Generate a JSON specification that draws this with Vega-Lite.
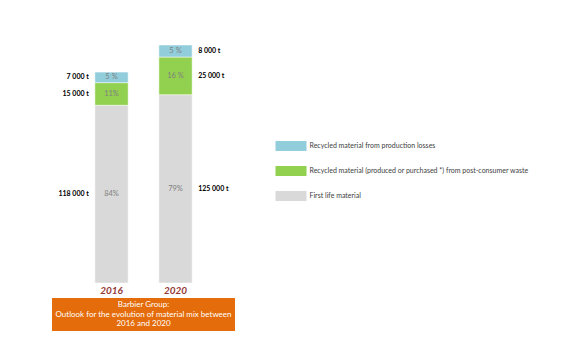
{
  "$schema": "https://vega.github.io/schema/vega-lite/v6.json",
  "padding": {"left": 50, "top": 44, "right": 0, "bottom": 0},
  "background": "white",
  "center": true,
  "bounds": "flush",
  "spacing": 15,
  "config": {
    "view": {"stroke": null},
    "font": "Lato"
  },
  "datasets": {
    "mix": [
      {"year": "2016", "type": "First life material", "tonnes": 118000, "pct": "84%", "label": "118 000 t"},
      {"year": "2016", "type": "Recycled material (produced or purchased *) from post-consumer waste", "tonnes": 15000, "pct": "11%", "label": "15 000 t"},
      {"year": "2016", "type": "Recycled material from production losses", "tonnes": 7000, "pct": "5 %", "label": "7 000 t"},
      {"year": "2020", "type": "First life material", "tonnes": 125000, "pct": "79%", "label": "125 000 t"},
      {"year": "2020", "type": "Recycled material (produced or purchased *) from post-consumer waste", "tonnes": 25000, "pct": "16 %", "label": "25 000 t"},
      {"year": "2020", "type": "Recycled material from production losses", "tonnes": 8000, "pct": "5 %", "label": "8 000 t"}
    ]
  },
  "vconcat": [
    {
      "width": 128,
      "height": 238,
      "layer": [
        {
          "data": {"name": "mix"},
          "transform": [
            {"stack": "tonnes", "groupby": ["year"], "sort": [{"field": "type", "order": "ascending"}], "as": ["y0", "y1"]}
          ],
          "mark": {"type": "bar", "stroke": "white", "strokeWidth": 0.5},
          "encoding": {
            "x": {
              "field": "year", "type": "nominal",
              "scale": {"paddingInner": 0.48, "paddingOuter": 0.24},
              "axis": {"title": null, "domain": false, "ticks": false, "labelAngle": 0, "labelPadding": 2, "labelFontSize": 10, "labelFontWeight": "bold", "labelFontStyle": "italic", "labelColor": "#953735", "labelFont": "Lato"}
            },
            "y": {"field": "y0", "type": "quantitative", "scale": {"domain": [0, 158000], "nice": false, "zero": true}, "axis": null},
            "y2": {"field": "y1"},
            "color": {
              "field": "type", "type": "nominal",
              "scale": {
                "domain": ["Recycled material from production losses", "Recycled material (produced or purchased *) from post-consumer waste", "First life material"],
                "range": ["#92CDDC", "#92D050", "#D9D9D9"]
              },
              "legend": {
                "orient": "none", "legendX": 234, "legendY": 96, "title": null, "padding": 0,
                "symbolType": "M-3.1,-1H3.1V1H-3.1Z", "symbolSize": 100, "symbolStrokeWidth": 0, "symbolOpacity": 1,
                "labelOffset": 13.5, "rowPadding": 15, "labelFontSize": 7, "labelColor": "#404040", "labelFont": "Lato", "labelLimit": 400
              }
            }
          }
        },
        {
          "data": {"name": "mix"},
          "transform": [
            {"stack": "tonnes", "groupby": ["year"], "sort": [{"field": "type", "order": "ascending"}], "as": ["y0", "y1"]},
            {"calculate": "(datum.y0 + datum.y1) / 2", "as": "ymid"}
          ],
          "mark": {"type": "text", "fontSize": 7.5, "color": "#7F7F7F", "baseline": "middle"},
          "encoding": {
            "x": {"field": "year", "type": "nominal"},
            "y": {"field": "ymid", "type": "quantitative"},
            "text": {"field": "pct"}
          }
        },
        {
          "data": {"name": "mix"},
          "transform": [
            {"stack": "tonnes", "groupby": ["year"], "sort": [{"field": "type", "order": "ascending"}], "as": ["y0", "y1"]},
            {"calculate": "(datum.y0 + datum.y1) / 2", "as": "ymid"},
            {"filter": "datum.year == '2016'"}
          ],
          "mark": {"type": "text", "fontSize": 7, "fontWeight": "bold", "color": "#000000", "align": "right", "baseline": "middle", "dx": -6},
          "encoding": {
            "x": {"field": "year", "type": "nominal", "bandPosition": 0},
            "y": {"field": "ymid", "type": "quantitative"},
            "text": {"field": "label"}
          }
        },
        {
          "data": {"name": "mix"},
          "transform": [
            {"stack": "tonnes", "groupby": ["year"], "sort": [{"field": "type", "order": "ascending"}], "as": ["y0", "y1"]},
            {"calculate": "(datum.y0 + datum.y1) / 2", "as": "ymid"},
            {"filter": "datum.year == '2020'"}
          ],
          "mark": {"type": "text", "fontSize": 7, "fontWeight": "bold", "color": "#000000", "align": "left", "baseline": "middle", "dx": 6},
          "encoding": {
            "x": {"field": "year", "type": "nominal", "bandPosition": 1},
            "y": {"field": "ymid", "type": "quantitative"},
            "text": {"field": "label"}
          }
        }
      ]
    },
    {
      "width": 183,
      "height": 33,
      "view": {"fill": "#E46C0A", "stroke": null},
      "data": {"values": [{"caption": "Barbier Group:\nOutlook  for  the  evolution  of material  mix between\n2016 and 2020"}]},
      "mark": {"type": "text", "color": "white", "fontSize": 8, "lineBreak": "\n", "lineHeight": 9.5, "baseline": "middle", "align": "center", "font": "Lato", "dy": -9.5},
      "encoding": {"text": {"field": "caption"}}
    }
  ]
}
